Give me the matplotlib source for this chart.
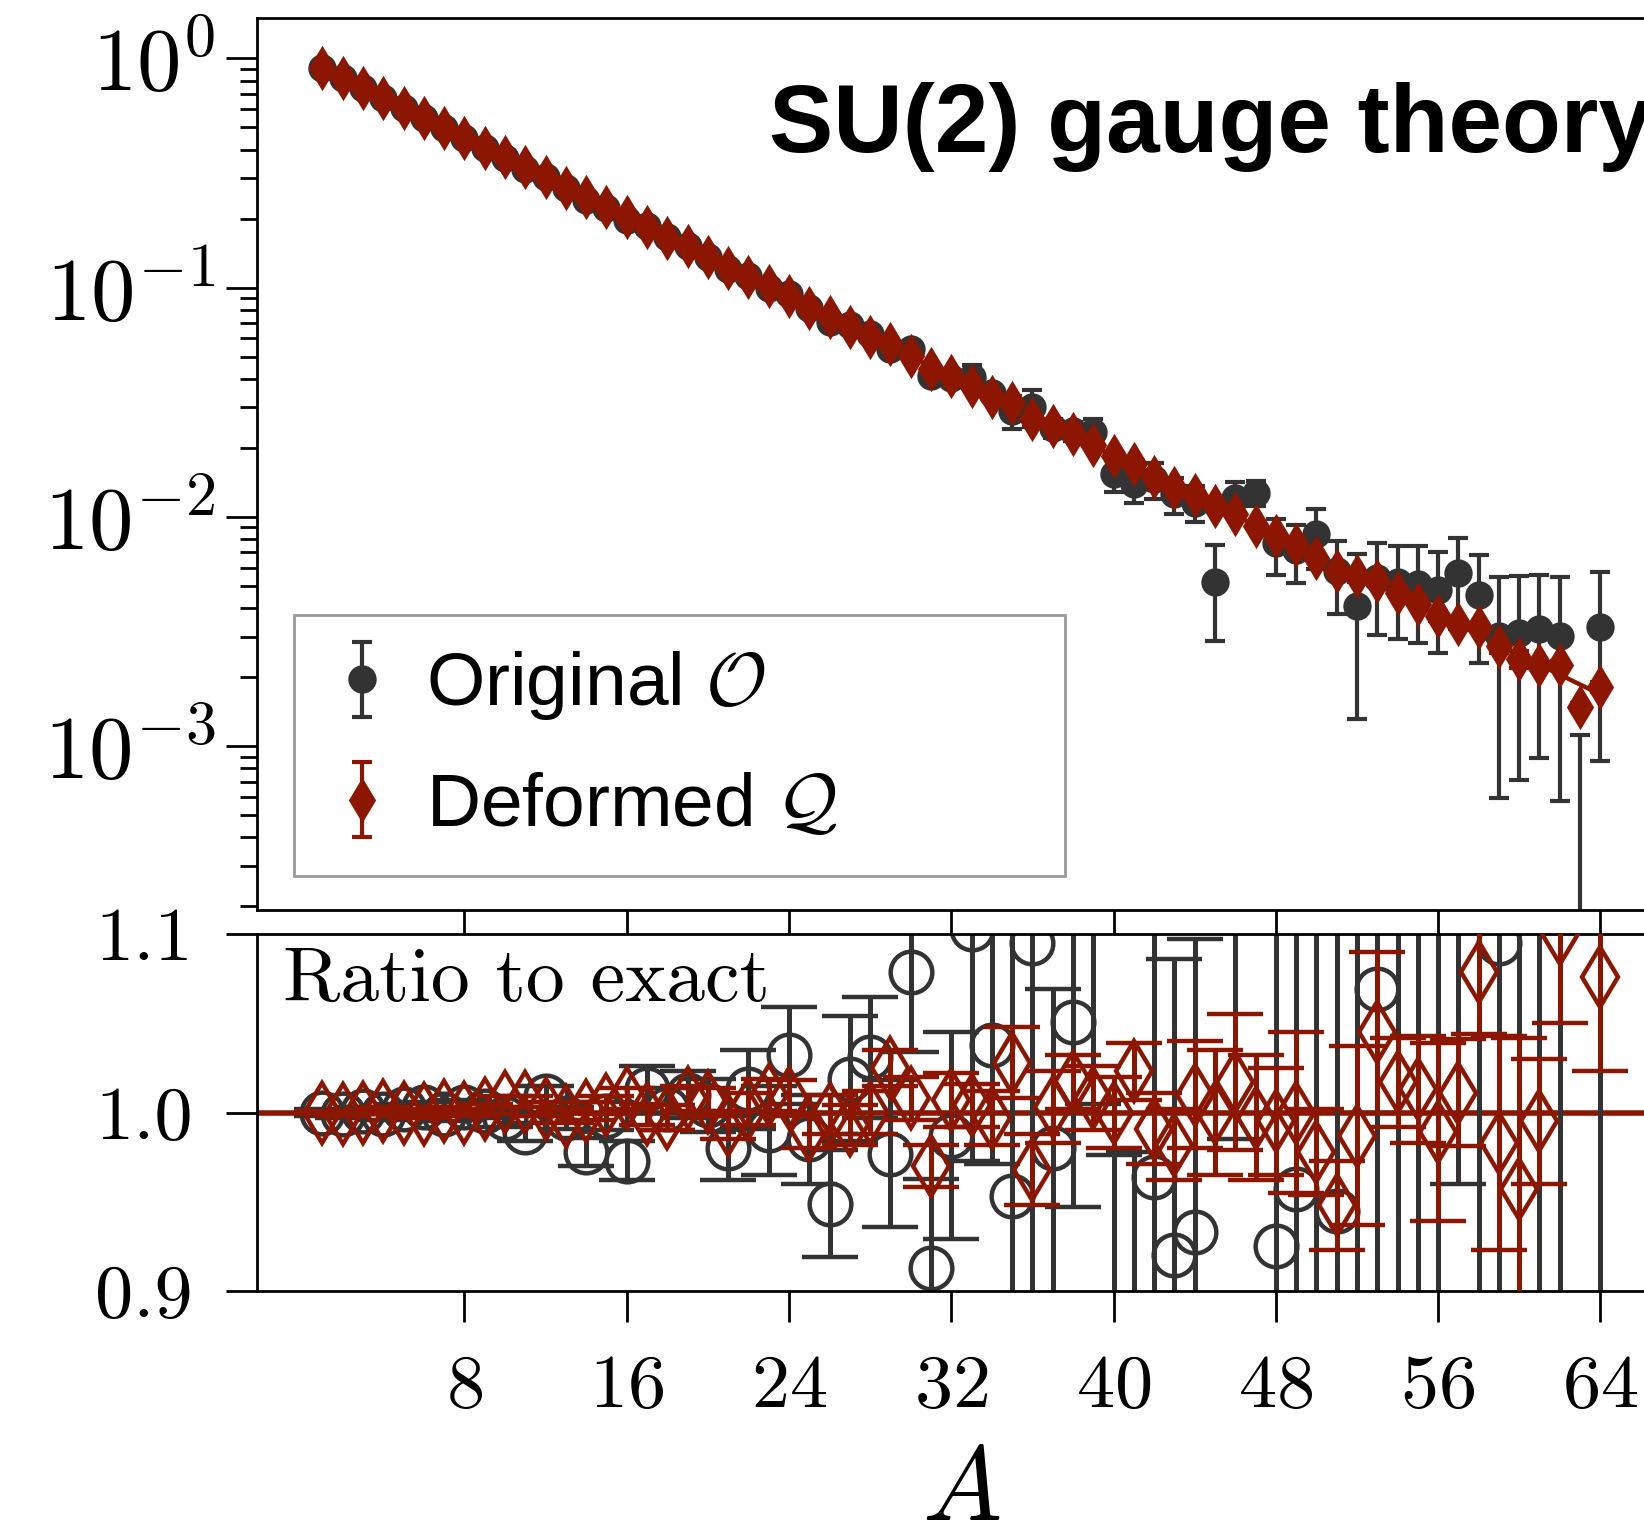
import numpy as np
import matplotlib
matplotlib.use("Agg")
import matplotlib.pyplot as plt
from matplotlib.ticker import FixedLocator, FormatStrFormatter, NullLocator

plt.rcParams['font.family'] = 'serif'
plt.rcParams['font.serif'] = ['cmr10']
plt.rcParams['mathtext.fontset'] = 'cm'
plt.rcParams['axes.formatter.use_mathtext'] = True
plt.rcParams['axes.unicode_minus'] = False
plt.rcParams['axes.linewidth'] = 1.0

GRAY = '#333333'
RED = '#8c1600'

# loop area A and exact Wilson loop expectation
area = np.arange(1, 65)
exact = [0.9050, 0.8190, 0.7412, 0.6708, 0.6071, 0.5494, 0.4972, 0.4500,
         0.4072, 0.3685, 0.3335, 0.3018, 0.2732, 0.2472, 0.2237, 0.2025,
         0.1832, 0.1658, 0.1501, 0.1358, 0.1229, 0.1112, 0.1007, 0.09109,
         0.08244, 0.07461, 0.06752, 0.06111, 0.05530, 0.05005, 0.04530, 0.04099,
         0.03710, 0.03357, 0.03038, 0.02750, 0.02488, 0.02252, 0.02038, 0.01844,
         0.01669, 0.01511, 0.01367, 0.01237, 0.01120, 0.01013, 0.009172, 0.008300,
         0.007512, 0.006798, 0.006152, 0.005568, 0.005039, 0.004560, 0.004127, 0.003735,
         0.003380, 0.003059, 0.002768, 0.002505, 0.002267, 0.002052, 0.001857, 0.001681]

# ratio to exact, original observable O
ratio_orig = [1.000, 0.999, 1.001, 0.999, 1.002, 1.003, 0.999, 1.003,
              1.001, 0.997, 0.989, 1.009, 0.997, 0.978, 0.998, 0.973,
              1.013, 1.002, 1.010, 1.004, 0.980, 1.013, 0.990, 1.032,
              0.985, 0.949, 1.019, 1.031, 0.977, 1.079, 0.913, 0.987,
              1.103, 1.038, 0.953, 1.095, 0.980, 1.051, 1.155, 0.836,
              0.833, 0.964, 0.920, 0.933, 0.465, 1.195, 1.39, 0.925,
              0.957, 1.234, 0.945, 0.735, 1.069, 1.143, 1.24, 1.285,
              1.68, 1.49, 1.095, 1.245, 1.43, 1.47, -0.2, 1.975]
err_orig = [0.002, 0.002, 0.002, 0.003, 0.003, 0.003, 0.004, 0.004,
            0.004, 0.005, 0.005, 0.006, 0.006, 0.008, 0.008, 0.011,
            0.013, 0.012, 0.013, 0.015, 0.018, 0.022, 0.025, 0.027,
            0.025, 0.030, 0.035, 0.034, 0.041, 0.045, 0.050, 0.058,
            0.13, 0.067, 0.16, 0.20, 0.089, 0.104, 0.15, 0.14,
            0.145, 0.17, 0.166, 0.164, 0.207, 0.21, 0.17, 0.25,
            0.27, 0.36, 0.33, 0.50, 0.46, 0.50, 0.56, 0.60,
            0.72, 0.74, 0.88, 0.96, 1.04, 1.19, 0.80, 1.46]

# ratio to exact, deformed observable Q
ratio_def = [1.000, 0.999, 1.000, 1.001, 1.000, 0.999, 1.001, 1.000,
             1.002, 1.006, 1.006, 1.002, 0.998, 1.001, 1.004, 1.008,
             0.999, 0.997, 1.008, 1.006, 0.993, 1.002, 1.010, 1.008,
             0.990, 0.999, 0.993, 1.000, 1.025, 1.008, 0.970, 1.007,
             1.004, 0.997, 1.028, 0.968, 1.003, 1.017, 1.008, 1.000,
             1.023, 0.991, 0.982, 1.010, 1.000, 1.017, 0.997, 0.995,
             1.000, 0.978, 0.948, 0.987, 1.045, 1.017, 1.013, 0.989,
             1.011, 1.079, 0.983, 0.957, 0.995, 1.100, 0.800, 1.076]
err_def = [0.001, 0.001, 0.001, 0.002, 0.002, 0.002, 0.002, 0.002,
           0.003, 0.003, 0.003, 0.004, 0.004, 0.005, 0.005, 0.006,
           0.006, 0.007, 0.007, 0.008, 0.008, 0.009, 0.009, 0.010,
           0.010, 0.011, 0.011, 0.012, 0.010, 0.012, 0.012, 0.015,
           0.012, 0.015, 0.020, 0.020, 0.020, 0.015, 0.018, 0.020,
           0.016, 0.020, 0.020, 0.030, 0.035, 0.038, 0.035, 0.030,
           0.045, 0.024, 0.025, 0.050, 0.045, 0.025, 0.030, 0.050,
           0.030, 0.035, 0.060, 0.085, 0.035, 0.050, 0.030, 0.053]

xticks = [8, 16, 24, 32, 40, 48, 56, 64]

exact = np.array(exact)
orig_val = np.array(ratio_orig) * exact
orig_err = np.array(err_orig) * exact
def_val = np.array(ratio_def) * exact
def_err = np.array(err_def) * exact

fig = plt.figure(figsize=(8.22, 7.67), dpi=200)

# ---- upper panel: expectation values on log scale ----
ax1 = fig.add_axes([0.1563, 0.4068, 0.857, 0.5815])
ax1.set_yscale('log')
ax1.plot(area, exact, color=RED, lw=1.6, zorder=1)
h_orig = ax1.errorbar(area, orig_val, yerr=orig_err, fmt='o', color=GRAY, ms=9.2,
                      elinewidth=1.5, capsize=3.6, capthick=1.5, zorder=2,
                      label=r'Original $\mathcal{O}$')
h_def = ax1.errorbar(area, def_val, yerr=def_err, fmt='d', color=RED, ms=10,
                     elinewidth=1.5, capsize=3.6, capthick=1.5, zorder=3,
                     label=r'Deformed $\mathcal{Q}$')
ax1.set_xlim(-2.23, 67.23)
ax1.set_ylim(1.93e-4, 1.5)
ax1.xaxis.set_major_locator(FixedLocator(xticks))
ax1.xaxis.set_minor_locator(NullLocator())
ax1.tick_params(axis='x', which='both', direction='out', length=11, width=1.0,
                labelbottom=False)
ax1.tick_params(axis='y', which='major', direction='out', length=11, width=1.0,
                labelsize=32, pad=4)
ax1.tick_params(axis='y', which='minor', direction='out', length=6, width=1.0)

leg = ax1.legend(handles=[h_orig, h_def], loc='upper left',
                 bbox_to_anchor=(294 / 1644, 1 - 871 / 1534, 771 / 1644, 256 / 1534),
                 bbox_transform=fig.transFigure, mode='expand', borderaxespad=0,
                 prop={'family': 'Liberation Sans', 'size': 27},
                 handlelength=0.9, handletextpad=0.4, labelspacing=0.66,
                 borderpad=0.46, fancybox=False, framealpha=1.0)
leg.get_frame().set_edgecolor('0.6')
leg.get_frame().set_linewidth(1.0)

# ---- lower panel: ratio to the exact result ----
ax2 = fig.add_axes([0.1563, 0.1584, 0.857, 0.2327])
ax2.axhline(1.0, color=RED, lw=2.0, zorder=1)
ax2.errorbar(area, ratio_orig, yerr=err_orig, fmt='o', color=GRAY, mfc='none',
             mec=GRAY, ms=15, mew=1.6, elinewidth=1.8, capsize=10, capthick=1.8,
             zorder=2)
ax2.errorbar(area, ratio_def, yerr=err_def, fmt='d', color=RED, mfc='none',
             mec=RED, ms=15.3, mew=1.6, elinewidth=1.8, capsize=10, capthick=1.8,
             zorder=3)
ax2.set_xlim(-2.23, 67.23)
ax2.set_ylim(0.9, 1.1)
ax2.set_yticks([0.9, 1.0, 1.1])
ax2.yaxis.set_major_formatter(FormatStrFormatter('%.1f'))
ax2.xaxis.set_major_locator(FixedLocator(xticks))
ax2.xaxis.set_minor_locator(NullLocator())
ax2.yaxis.set_minor_locator(NullLocator())
ax2.tick_params(axis='x', direction='out', length=11, width=1.0, labelsize=27.5, pad=12)
ax2.tick_params(axis='y', direction='out', length=11, width=1.0, labelsize=27.5, pad=12)
ax2.set_xlabel('$A$', fontsize=38, labelpad=9)
ax2.text(0.0185, 0.812, 'Ratio to exact', transform=ax2.transAxes,
         fontsize=28, va='baseline', ha='left')

fig.text(768.6 / 1644, 1 - 152 / 1534, 'SU(2) gauge theory', fontsize=34.7,
         fontweight='bold', family='Liberation Sans', va='baseline', ha='left')

fig.savefig('out.png', dpi=200)
